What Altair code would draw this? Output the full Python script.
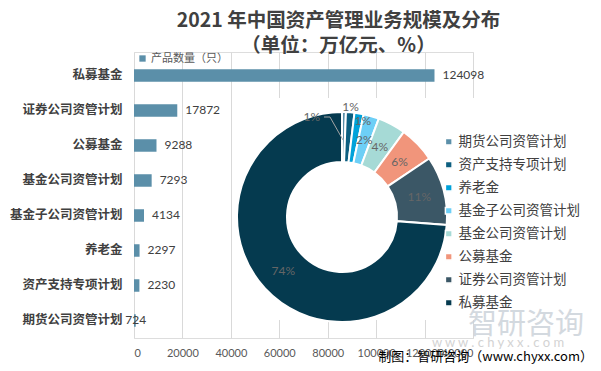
import altair as alt
import pandas as pd

# ---------------- data ----------------
bar_categories = ["私募基金", "证券公司资管计划", "公募基金", "基金公司资管计划",
                  "基金子公司资管计划", "养老金", "资产支持专项计划", "期货公司资管计划"]
bar_values = [124098, 17872, 9288, 7293, 4134, 2297, 2230, 724]
bar_series = "产品数量（只）"
x_ticks = [0, 20000, 40000, 60000, 80000, 100000, 120000, 140000]

donut_categories = ["期货公司资管计划", "资产支持专项计划", "养老金", "基金子公司资管计划",
                    "基金公司资管计划", "公募基金", "证券公司资管计划", "私募基金"]
donut_shares = [0.6, 1.3, 1.4, 2.4, 4.3, 5.6, 10.6, 73.8]

title_lines = ["2021 年中国资产管理业务规模及分布", "（单位：万亿元、%）"]
source_text = "制图：智研咨询（www.chyxx.com）"
watermark_name = "智研咨询"
watermark_url = "w w w . c h y x x . c o m"

# ---------------- styles ----------------
bar_color = "#5B8FA9"
donut_colors = ["#5B8FA9", "#0D5F80", "#00A2DA", "#6DCFF6",
                "#A6DAD6", "#F1957B", "#3B5766", "#053A4F"]
CJK = "Noto Sans CJK SC"
NUM = "Lato"

W, H = 339, 286
CX, CY = 208, 165
R_OUT, R_IN = 105, 55

bars_df = pd.DataFrame({"cat": bar_categories, "val": bar_values, "series": bar_series})
donut_df = pd.DataFrame({"cat": donut_categories, "share": donut_shares,
                         "ord": list(range(len(donut_categories)))})

y_enc = alt.Y("cat:N", sort=bar_categories,
              scale=alt.Scale(paddingInner=0.643, paddingOuter=0.407, align=0.605),
              axis=alt.Axis(title=None, ticks=False, domain=False, labelFont=CJK,
                            labelFontWeight="bold", labelFontSize=12.5, labelColor="#404040",
                            labelPadding=12, labelLimit=200))
x_enc = alt.X("val:Q", scale=alt.Scale(domain=[0, 140000], nice=False),
              axis=alt.Axis(title=None, values=x_ticks, format="d", grid=True,
                            gridColor="#D9D9D9", domain=False, ticks=False,
                            labelFont=NUM, labelFontSize=11, labelColor="#595959",
                            labelPadding=9, labelOverlap=False))

bars = alt.Chart(bars_df).mark_bar().encode(
    x=x_enc, y=y_enc,
    color=alt.Color("series:N", scale=alt.Scale(domain=[bar_series], range=[bar_color]),
                    legend=alt.Legend(title=None, orient="none", legendX=3, legendY=1,
                                      symbolType="square", symbolSize=40, labelFont=CJK,
                                      labelFontSize=11, labelColor="#595959", padding=0,
                                      labelOffset=3)),
)

bar_text_big = alt.Chart(bars_df).transform_filter("datum.val >= 1000").mark_text(
    align="left", baseline="middle", dx=8, fontSize=12, font=NUM, color="#404040"
).encode(x="val:Q", y=alt.Y("cat:N", sort=bar_categories), text=alt.Text("val:Q", format="d"))

bar_text_small = alt.Chart(bars_df).transform_filter("datum.val < 1000").mark_text(
    align="center", baseline="middle", dx=0, fontSize=12, font=NUM, color="#404040"
).encode(x="val:Q", y=alt.Y("cat:N", sort=bar_categories), text=alt.Text("val:Q", format="d"))

panel = alt.Chart(pd.DataFrame({"k": [0]})).mark_rect(color="white").encode(
    x=alt.value(101), x2=alt.value(470), y=alt.value(46), y2=alt.value(268))

arcs = alt.Chart(donut_df).mark_arc(innerRadius=R_IN, outerRadius=R_OUT,
                                    stroke="white", strokeWidth=2).encode(
    theta=alt.Theta("share:Q", stack=True),
    order=alt.Order("ord:Q"),
    color=alt.Color("cat:N", sort=donut_categories,
                    scale=alt.Scale(domain=donut_categories, range=donut_colors),
                    legend=alt.Legend(title=None, orient="none", legendX=308, legendY=83,
                                      symbolType="square", symbolSize=45, labelFont=CJK,
                                      labelFontSize=13.5, labelColor="#404040", padding=0,
                                      rowPadding=8, labelOffset=3, labelLimit=200)),
    x=alt.value(CX), y=alt.value(CY),
)


def pct_layer(cond, radius, dx=0, dy=0):
    return alt.Chart(donut_df).transform_calculate(
        lbl=f"({cond}) ? format(datum.share, '.0f') + '%' : ''"
    ).mark_text(radius=radius, dx=dx, dy=dy, fontSize=12, font=NUM, color="#666666").encode(
        theta=alt.Theta("share:Q", stack=True),
        order=alt.Order("ord:Q"),
        text="lbl:N",
        x=alt.value(CX), y=alt.value(CY),
    )


labels_main = pct_layer("datum.share >= 2", 80)
labels_a = pct_layer(f"datum.cat == '{donut_categories[2]}'", 97, dx=5)
labels_b = pct_layer(f"datum.cat == '{donut_categories[1]}'", 110)
labels_c = pct_layer(f"datum.cat == '{donut_categories[0]}'", 100, dx=-32)

one = pd.DataFrame({"k": [0]})
leader1 = alt.Chart(one).mark_rule(color="#A6A6A6", strokeWidth=1).encode(
    x=alt.value(190), x2=alt.value(196), y=alt.value(65), y2=alt.value(65))
leader2 = alt.Chart(one).mark_rule(color="#A6A6A6", strokeWidth=1).encode(
    x=alt.value(196), x2=alt.value(209), y=alt.value(65), y2=alt.value(88))

wm1 = alt.Chart(one).mark_text(text=watermark_name, fontSize=29, font=CJK, color="#C9D0D8",
                                opacity=0.8, align="left", baseline="middle").encode(
    x=alt.value(334), y=alt.value(273))
wm2 = alt.Chart(one).mark_text(text=watermark_url, fontSize=13, font=NUM, color="#D3D3D3",
                                align="left", baseline="middle").encode(
    x=alt.value(298), y=alt.value(291))
src = alt.Chart(one).mark_text(text=source_text, fontSize=13, font=CJK, color="#000000",
                                align="right", baseline="middle").encode(
    x=alt.value(459), y=alt.value(305))

chart = alt.layer(
    bars, bar_text_big, bar_text_small, panel, arcs, leader1, leader2,
    labels_main, labels_a, labels_b, labels_c, wm1, wm2, src
).resolve_scale(color="independent").properties(
    width=W, height=H,
    autosize=alt.AutoSizeParams(type="none"),
    padding={"left": 126, "top": 44, "right": 120, "bottom": 26},
    title=alt.TitleParams(text=title_lines, fontSize=19.5, font=CJK, fontWeight="bold",
                          color="#404040", anchor="middle", frame="group", dx=35, dy=8,
                          lineHeight=25, offset=4),
).configure_view(stroke=None).configure(background="white")

chart.save("out.html", embed_options={"renderer": "svg", "actions": False})
